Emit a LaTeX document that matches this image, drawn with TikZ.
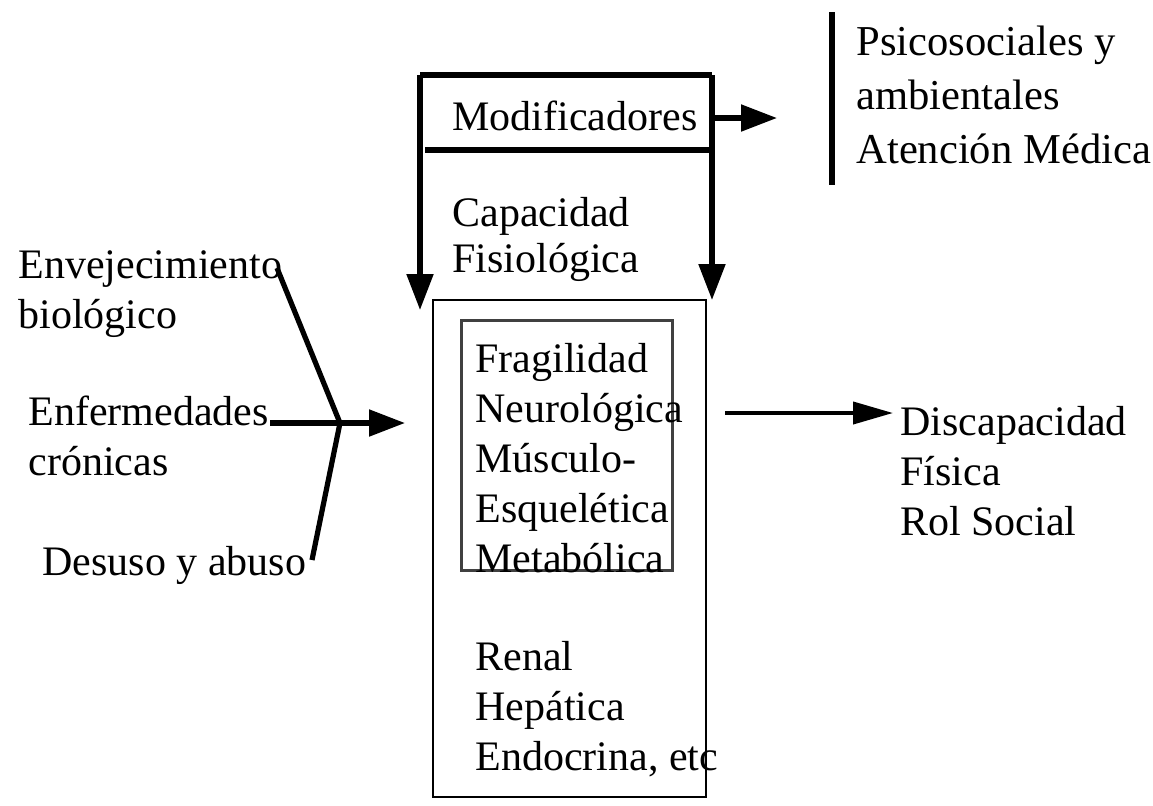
\documentclass[tikz,border=0pt]{standalone}
\usepackage{fontspec}
\setmainfont{Liberation Serif}
\usetikzlibrary{arrows.meta,positioning}

\begin{document}
\begin{tikzpicture}[x=0.5pt, y=-0.5pt,
    lbl/.style={anchor=north west, inner sep=0pt, align=left,
      font=\fontsize{21}{25}\selectfont},
    heavy/.style={line width=2.6pt},
    conn/.style={heavy, -{Triangle[length=18pt,width=13pt]}},
    longconn/.style={line width=2pt, -{Triangle[length=20pt,width=11pt]}},
    caja/.style={draw=black, line width=0.9pt, minimum width=136.5pt,
      minimum height=248.5pt, inner sep=0pt},
    nucleo/.style={draw=black!75, line width=1.5pt, minimum width=105.5pt,
      minimum height=125pt, inner sep=0pt}
  ]
  \useasboundingbox (0,0) rectangle (1153,805);
  % boxes
  \node[caja] (box) at (569.5,548.5) {};
  \node[nucleo] (inner) at (566.5,445) {};
  % texts
  \node[lbl] (mod) at (452,101) {Modificadores};
  \node[lbl, font=\fontsize{21}{23}\selectfont] (cap) at (452,197) {Capacidad\\Fisiológica};
  \node[lbl, font=\fontsize{21.3}{27}\selectfont] (psico) at (856,26) {Psicosociales y\\ambientales\\Atención Médica};
  \node[lbl] (env) at (18,250) {Envejecimiento\\biológico};
  \node[lbl] (enf) at (28,396) {Enfermedades\\crónicas};
  \node[lbl] (des) at (42,546) {Desuso y abuso};
  \node[lbl] (frag) at (475,343) {Fragilidad\\Neurológica\\Músculo-\\Esquelética\\Metabólica};
  \node[lbl] (org) at (475,641) {Renal\\Hepática\\Endocrina, etc};
  \node[lbl] (disc) at (900,406) {Discapacidad\\Física\\Rol Social};
  % points
  \coordinate (tl) at (420,75);
  \coordinate (tr) at (712,75);
  \coordinate (ml) at (425,150);
  \coordinate (mr) at (712,150);
  \coordinate (tlend) at (420,310);
  \coordinate (trend) at (712,300);
  \coordinate (modend) at (777,118);
  \coordinate (bartop) at (832,12);
  \coordinate (barbot) at (832,185);
  \coordinate (envend) at (277,268);
  \coordinate (enfend) at (270,423);
  \coordinate (desend) at (312,560);
  \coordinate (jun) at (340,423);
  \coordinate (fanend) at (405,423);
  \coordinate (outstart) at (725,413);
  \coordinate (outend) at (893,413);
  % connectors
  \draw[heavy] (tl) -- (tr);
  \draw[heavy] (ml) -- (mr);
  \draw[conn] (tl) -- (tlend);
  \draw[conn] (tr) -- (trend);
  \draw[conn] (tr |- modend) -- (modend);
  \draw[heavy] (bartop) -- (barbot);
  \draw[heavy] (envend) -- (jun) -- (desend);
  \draw[conn] (enfend) -- (fanend);
  \draw[longconn] (outstart) -- (outend);
\end{tikzpicture}
\end{document}
